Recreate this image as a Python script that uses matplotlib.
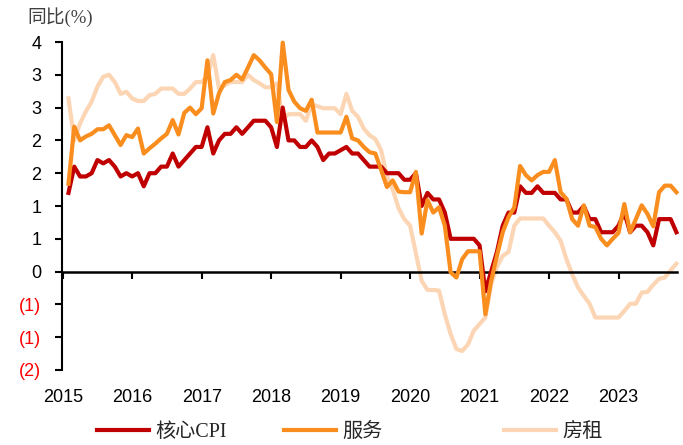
import numpy as np
import matplotlib
matplotlib.use("Agg")
import matplotlib.pyplot as plt
from matplotlib.ticker import FixedLocator, FuncFormatter

# 月度同比(%), 2015-01 ~ 2023-10
core_cpi = [1.2, 1.6, 1.45, 1.45, 1.5, 1.7, 1.65, 1.7, 1.6, 1.45, 1.5, 1.45,
            1.5, 1.3, 1.5, 1.5, 1.6, 1.6, 1.8, 1.6, 1.7, 1.8, 1.9, 1.9,
            2.2, 1.8, 2.0, 2.1, 2.1, 2.2, 2.1, 2.2, 2.3, 2.3, 2.3, 2.2,
            1.9, 2.5, 2.0, 2.0, 1.9, 1.9, 2.0, 1.9, 1.7, 1.8, 1.8, 1.85,
            1.9, 1.8, 1.8, 1.7, 1.6, 1.6, 1.6, 1.5, 1.5, 1.5, 1.4, 1.4,
            1.5, 1.0, 1.2, 1.1, 1.1, 0.9, 0.5, 0.5, 0.5, 0.5, 0.5, 0.4,
            -0.3, 0.0, 0.3, 0.7, 0.9, 0.9, 1.3, 1.2, 1.2, 1.3, 1.2, 1.2,
            1.2, 1.1, 1.1, 0.9, 0.9, 1.0, 0.8, 0.8, 0.6, 0.6, 0.6, 0.7,
            0.9, 0.6, 0.7, 0.7, 0.6, 0.4, 0.8, 0.8, 0.8, 0.6]
services = [1.34, 2.21, 2.0, 2.06, 2.1, 2.17, 2.17, 2.23, 2.08, 1.93, 2.08, 2.05,
            2.18, 1.8, 1.88, 1.95, 2.03, 2.1, 2.31, 2.09, 2.42, 2.5, 2.4, 2.49,
            3.22, 2.41, 2.72, 2.89, 2.92, 3.0, 2.93, 3.11, 3.3, 3.22, 3.11, 3.01,
            2.28, 3.49, 2.77, 2.59, 2.49, 2.45, 2.62, 2.12, 2.12, 2.12, 2.12, 2.12,
            2.36, 2.03, 2.0, 1.9, 1.82, 1.8, 1.55, 1.29, 1.39, 1.22, 1.21, 1.21,
            1.52, 0.58, 1.09, 0.9, 0.98, 0.70, -0.01, -0.09, 0.19, 0.31, 0.31, 0.31,
            -0.65, -0.14, 0.24, 0.60, 0.83, 0.98, 1.61, 1.47, 1.39, 1.47, 1.52, 1.52,
            1.70, 1.21, 1.11, 0.80, 0.70, 1.01, 0.70, 0.68, 0.50, 0.40, 0.50, 0.59,
            1.03, 0.60, 0.80, 1.01, 0.88, 0.69, 1.21, 1.31, 1.31, 1.21]
rent = [2.64, 2.0, 2.26, 2.44, 2.59, 2.82, 2.97, 3.0, 2.89, 2.71, 2.74, 2.64,
        2.6, 2.6, 2.69, 2.71, 2.79, 2.79, 2.79, 2.71, 2.71, 2.79, 2.89, 2.89,
        2.97, 3.30, 2.79, 2.84, 2.89, 2.89, 2.89, 3.0, 2.92, 2.87, 2.81, 2.81,
        2.87, 2.33, 2.40, 2.40, 2.40, 2.30, 2.55, 2.52, 2.49, 2.49, 2.49, 2.40,
        2.71, 2.45, 2.36, 2.18, 2.08, 2.02, 1.85, 1.45, 1.25, 0.97, 0.8, 0.7,
        0.28, -0.14, -0.28, -0.28, -0.29, -0.65, -0.95, -1.18, -1.21, -1.11, -0.90, -0.80,
        -0.70, -0.19, 0.07, 0.24, 0.30, 0.70, 0.81, 0.81, 0.81, 0.81, 0.81, 0.70,
        0.60, 0.47, 0.19, -0.04, -0.24, -0.37, -0.49, -0.70, -0.70, -0.70, -0.70, -0.70,
        -0.60, -0.49, -0.49, -0.32, -0.31, -0.20, -0.11, -0.09, 0.02, 0.12]
years = ["2015", "2016", "2017", "2018", "2019", "2020", "2021", "2022", "2023"]
names = ["核心CPI", "服务", "房租"]
colors = ["#C00000", "#F98D1E", "#FCD5B4"]

months = np.arange(len(core_cpi))
year_pos = [12 * k - 1 for k in range(len(years))]

fig = plt.figure(figsize=(6.83, 4.45), dpi=100)
ax = fig.add_axes([62 / 683, 1 - 370 / 445, 615 / 683, 328 / 445])

lines = []
for series, name, c, z in zip([rent, core_cpi, services], [names[2], names[0], names[1]],
                              [colors[2], colors[0], colors[1]], [2, 3, 4]):
    ln, = ax.plot(months, series, color=c, lw=3, label=name, zorder=z,
                  solid_joinstyle="round", clip_on=False)
    lines.append(ln)

ax.set_xlim(-1.12, 105.1)
ax.set_ylim(-1.5, 3.5)

# y轴
ax.yaxis.set_major_locator(FixedLocator(np.arange(-1.5, 3.51, 0.5)))


def fmt(v, pos):
    n = int(np.floor(abs(v) + 0.5 + 1e-9))
    return "(%d)" % n if v < -1e-9 else "%d" % n


ax.yaxis.set_major_formatter(FuncFormatter(fmt))
ax.tick_params(axis="y", direction="out", length=5, width=1.5, pad=10,
               labelsize=13, colors="black")
for lab, v in zip(ax.get_yticklabels(), np.arange(-1.5, 3.51, 0.5)):
    lab.set_fontfamily("Liberation Sans")
    if v < 0:
        lab.set_color("#FF0000")

# x轴在0处
ax.spines["bottom"].set_position(("data", 0))
ax.spines["bottom"].set_linewidth(1.8)
ax.spines["left"].set_linewidth(1.5)
ax.spines["top"].set_visible(False)
ax.spines["right"].set_visible(False)
ax.set_xticks(year_pos)
ax.tick_params(axis="x", direction="out", length=5, width=1.5, labelbottom=False)

sec = ax.secondary_xaxis("bottom")
sec.set_xticks(year_pos)
sec.set_xticklabels(years, fontfamily="Liberation Sans", fontsize=13)
sec.tick_params(length=0, pad=14)
sec.spines["bottom"].set_visible(False)

fig.text(27 / 683, 1 - 17 / 445, "同比(%)", fontsize=13.5, va="center", color="#404040",
         family=["Liberation Serif", "Noto Sans CJK SC"])

# 图例
by_name = {ln.get_label(): ln for ln in lines}
for name, x0 in zip(names, [97, 284, 504]):
    fig.legend(handles=[by_name[name]], loc="center left",
               bbox_to_anchor=(x0 / 683, 1 - 432 / 445), frameon=False,
               borderpad=0, borderaxespad=0, handlelength=2.6, handletextpad=0.3,
               labelcolor="#262626",
               prop={"family": ["Liberation Serif", "Noto Sans CJK SC"], "size": 14.5})

fig.savefig("out.png", dpi=100)
